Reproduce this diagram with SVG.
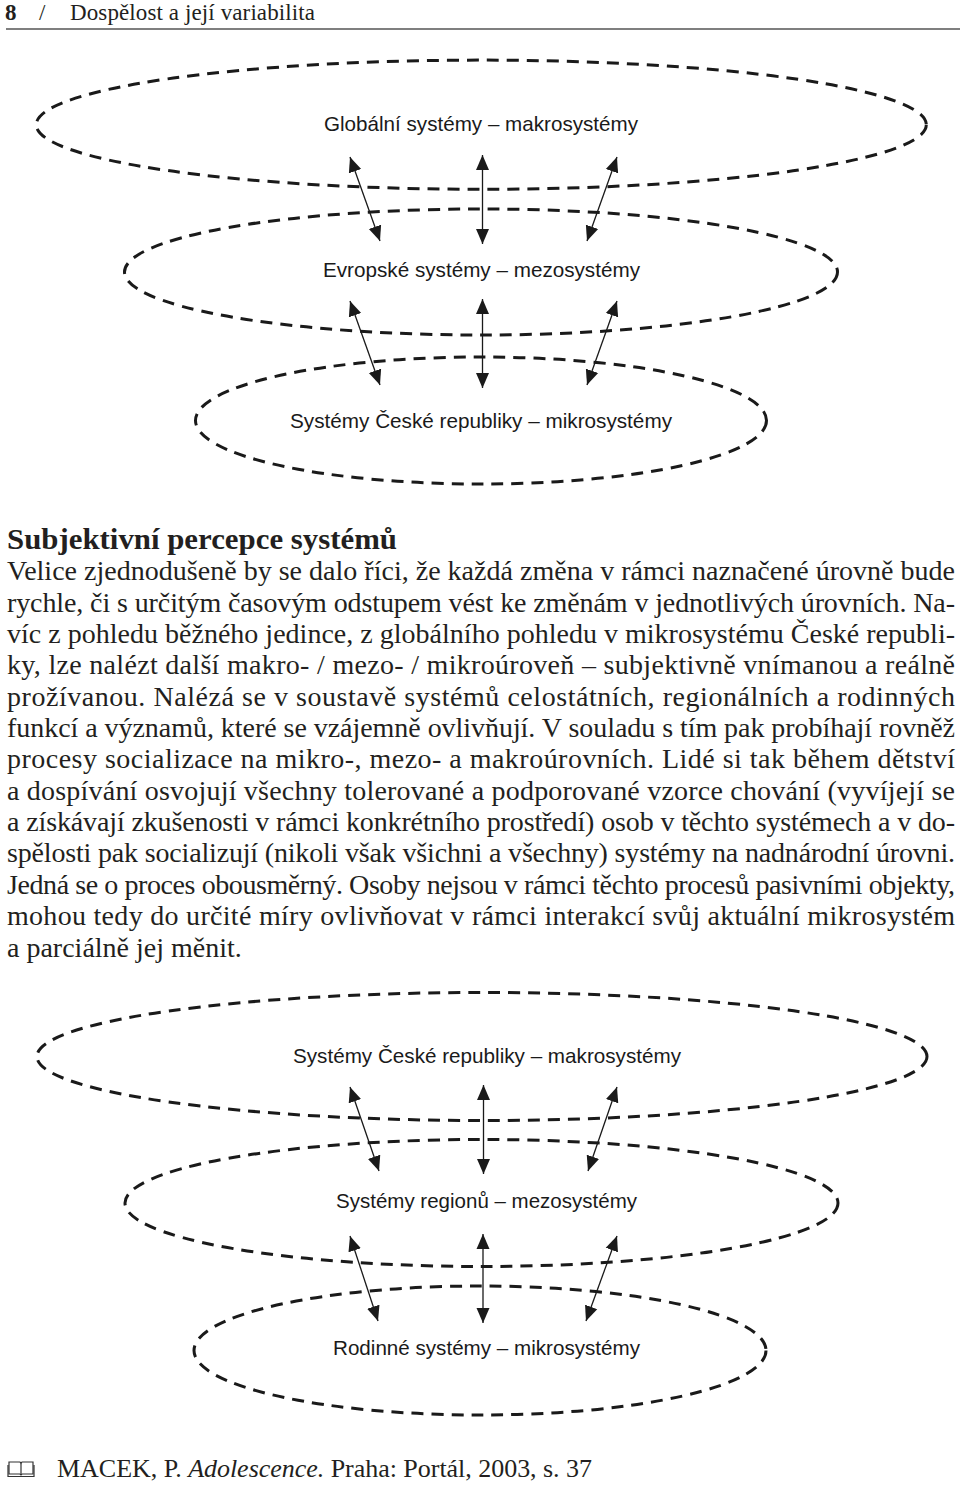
<svg xmlns="http://www.w3.org/2000/svg" width="960" height="1486" viewBox="0 0 960 1486">
<style>
.ell{fill:none;stroke:#1a1a1a;stroke-width:3;stroke-dasharray:12 8}
.arr{fill:none;stroke:#1a1a1a;stroke-width:1.3;marker-start:url(#ah);marker-end:url(#ah)}
.lbl{font-family:"Liberation Sans",Arial,sans-serif;font-size:20.6px;fill:#1a1a1a}
.ser{font-family:"Liberation Serif","Times New Roman",serif;fill:#231f20}
.body{font-size:28px}
</style>
<defs>
<marker id="ah" viewBox="0 0 15 14" refX="15" refY="7" markerWidth="15" markerHeight="14" markerUnits="userSpaceOnUse" orient="auto-start-reverse">
<path d="M0,0.5 L15,7 L0,13.5 z" fill="#1a1a1a"/>
</marker>
</defs>
<rect width="960" height="1486" fill="#ffffff"/>

<g id="header" class="ser">
<text x="5" y="19.5" font-size="23" font-weight="bold">8</text>
<text x="39" y="19.5" font-size="23">/</text>
<text x="70" y="19.5" font-size="23" textLength="245" lengthAdjust="spacing">Dospělost a její variabilita</text>
<line x1="6" y1="29" x2="960" y2="29" stroke="#555" stroke-width="1.5"/>
</g>

<g id="node-globalni">
<ellipse class="ell" cx="481.3" cy="124.7" rx="445" ry="64.6"/>
<text class="lbl" x="324" y="130.5" textLength="314" lengthAdjust="spacingAndGlyphs">Globální systémy – makrosystémy</text>
</g>
<g id="node-evropske">
<ellipse class="ell" cx="481" cy="272" rx="356.5" ry="63"/>
<text class="lbl" x="323" y="277" textLength="317" lengthAdjust="spacingAndGlyphs">Evropské systémy – mezosystémy</text>
</g>
<g id="node-cr-mikro">
<ellipse class="ell" cx="481" cy="420.5" rx="285.5" ry="63.5"/>
<text class="lbl" x="290" y="428" textLength="382" lengthAdjust="spacingAndGlyphs">Systémy České republiky – mikrosystémy</text>
</g>

<g id="node-cr-makro">
<ellipse class="ell" cx="482" cy="1056.5" rx="445" ry="64"/>
<text class="lbl" x="293" y="1063" textLength="388" lengthAdjust="spacingAndGlyphs">Systémy České republiky – makrosystémy</text>
</g>
<g id="node-regiony">
<ellipse class="ell" cx="481.5" cy="1203" rx="356.5" ry="63.5"/>
<text class="lbl" x="336" y="1208" textLength="301" lengthAdjust="spacingAndGlyphs">Systémy regionů – mezosystémy</text>
</g>
<g id="node-rodinne">
<ellipse class="ell" cx="480" cy="1350.5" rx="286" ry="64.5"/>
<text class="lbl" x="333" y="1354.5" textLength="307" lengthAdjust="spacingAndGlyphs">Rodinné systémy – mikrosystémy</text>
</g>

<g id="connectors">
<line class="arr" x1="350" y1="157" x2="380" y2="241"/>
<line class="arr" x1="482.5" y1="155" x2="482.5" y2="244"/>
<line class="arr" x1="617" y1="157" x2="587" y2="241"/>
<line class="arr" x1="350" y1="301" x2="380" y2="385"/>
<line class="arr" x1="482.5" y1="299" x2="482.5" y2="388"/>
<line class="arr" x1="617" y1="301" x2="587" y2="385"/>
<line class="arr" x1="350" y1="1087" x2="379" y2="1171"/>
<line class="arr" x1="483.5" y1="1085" x2="483.5" y2="1174"/>
<line class="arr" x1="617" y1="1087" x2="588" y2="1171"/>
<line class="arr" x1="350" y1="1236" x2="378" y2="1321"/>
<line class="arr" x1="483" y1="1234" x2="483" y2="1323"/>
<line class="arr" x1="617" y1="1236" x2="586" y2="1321"/>
</g>

<g id="body-text" class="ser">
<text x="7" y="549" font-size="30" font-weight="bold" textLength="390" lengthAdjust="spacingAndGlyphs">Subjektivní percepce systémů</text>
<g class="body">
<text x="7" y="580.3" textLength="948" lengthAdjust="spacing">Velice zjednodušeně by se dalo říci, že každá změna v rámci naznačené úrovně bude</text>
<text x="7" y="611.6" textLength="948" lengthAdjust="spacing">rychle, či s určitým časovým odstupem vést ke změnám v jednotlivých úrovních. Na-</text>
<text x="7" y="643" textLength="948" lengthAdjust="spacing">víc z pohledu běžného jedince, z globálního pohledu v mikrosystému České republi-</text>
<text x="7" y="674.3" textLength="948" lengthAdjust="spacing">ky, lze nalézt další makro- / mezo- / mikroúroveň – subjektivně vnímanou a reálně</text>
<text x="7" y="705.7" textLength="948" lengthAdjust="spacing">prožívanou. Nalézá se v soustavě systémů celostátních, regionálních a rodinných</text>
<text x="7" y="737" textLength="948" lengthAdjust="spacing">funkcí a významů, které se vzájemně ovlivňují. V souladu s tím pak probíhají rovněž</text>
<text x="7" y="768.4" textLength="948" lengthAdjust="spacing">procesy socializace na mikro-, mezo- a makroúrovních. Lidé si tak během dětství</text>
<text x="7" y="799.7" textLength="948" lengthAdjust="spacing">a dospívání osvojují všechny tolerované a podporované vzorce chování (vyvíjejí se</text>
<text x="7" y="831.1" textLength="948" lengthAdjust="spacing">a získávají zkušenosti v rámci konkrétního prostředí) osob v těchto systémech a v do-</text>
<text x="7" y="862.4" textLength="948" lengthAdjust="spacing">spělosti pak socializují (nikoli však všichni a všechny) systémy na nadnárodní úrovni.</text>
<text x="7" y="893.8" textLength="948" lengthAdjust="spacing">Jedná se o proces obousměrný. Osoby nejsou v rámci těchto procesů pasivními objekty,</text>
<text x="7" y="925.1" textLength="948" lengthAdjust="spacing">mohou tedy do určité míry ovlivňovat v rámci interakcí svůj aktuální mikrosystém</text>
<text x="7" y="956.5">a parciálně jej měnit.</text>
</g>
</g>

<g id="citation">
<g fill="none" stroke="#333" stroke-width="1.2">
<path d="M9,1462 L20,1462 L21,1463.5 L22,1462 L33,1462 L33,1474 L22,1474 L21,1475 L20,1474 L9,1474 Z"/>
<line x1="21" y1="1463.5" x2="21" y2="1475"/>
<path d="M8,1465 L8,1476.5 L34,1476.5 L34,1465"/>
</g>
<text class="ser" x="57" y="1476.7" font-size="26" textLength="535" lengthAdjust="spacing">MACEK, P. <tspan font-style="italic">Adolescence.</tspan> Praha: Portál, 2003, s. 37</text>
</g>
</svg>
